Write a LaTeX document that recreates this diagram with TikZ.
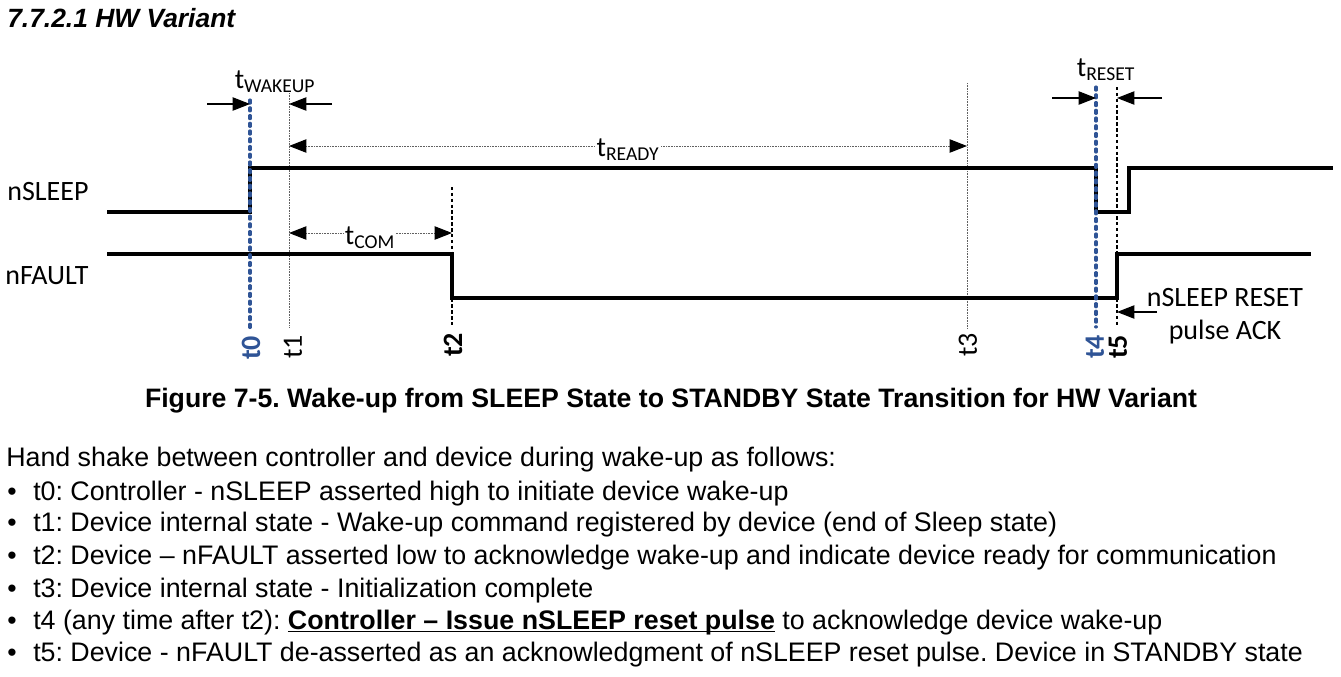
\documentclass[tikz,border=0pt]{standalone}
\usepackage{fontspec}
\setmainfont{Liberation Sans}
\newfontfamily\carl{Carlito}
\usetikzlibrary{arrows.meta}
\definecolor{tblue}{HTML}{2F5496}
\definecolor{tgray}{HTML}{606060}
\frenchspacing
\begin{document}
\begin{tikzpicture}[x=0.75pt,y=-0.75pt,
  sig/.style={line width=2.3pt,line join=miter},
  bluedash/.style={tblue,line width=2.3pt,line cap=round,dash pattern=on 2.4pt off 3.4pt},
  blackdash/.style={black,line width=1.2pt,dash pattern=on 2.6pt off 1.8pt},
  thinline/.style={tgray,line width=0.75pt,dash pattern=on 0.75pt off 0.45pt},
  tip/.style={-{Triangle[length=13pt,width=10pt,color=black]}},
  dtip/.style={{Triangle[length=13pt,width=10pt,color=black]}-{Triangle[length=13pt,width=10pt,color=black]}},
  dlabel/.style={font=\carl\fontsize{21}{24}\selectfont,inner sep=1pt},
  tlabel/.style={font=\carl\fontsize{21}{24}\selectfont,rotate=90,inner sep=0pt},
  body/.style={font=\fontsize{20.1}{23}\selectfont,anchor=base west,inner sep=0pt},
  bul/.style={font=\fontsize{20}{23}\selectfont,anchor=base,inner sep=0pt}]
\useasboundingbox (0,0) rectangle (1341,676);
% title
\node[anchor=base west,inner sep=0pt,font=\fontsize{19.8}{22}\selectfont\bfseries\itshape] (title) at (7,27) {7.7.2.1 HW Variant};
% signal names
\node[dlabel] (nsleep) at (48,192) {nSLEEP};
\node[dlabel] (nfault) at (47,276) {nFAULT};
% time line coordinates
\coordinate (t0a) at (250,100); \coordinate (t0b) at (250,330);
\coordinate (t1a) at (289,93);  \coordinate (t1b) at (289,328);
\coordinate (t2a) at (452,187); \coordinate (t2b) at (452,327);
\coordinate (t3a) at (967,83);  \coordinate (t3b) at (967,328);
\coordinate (t4a) at (1096,87); \coordinate (t4b) at (1096,327);
\coordinate (t5a) at (1117,87); \coordinate (t5b) at (1117,327);
% vertical lines
\draw[thinline] (t1a) -- (t1b);
\draw[thinline] (t3a) -- (t3b);
\draw[blackdash] (t2a) -- (t2b);
\draw[blackdash] (t5a) -- (t5b);
% signals
\coordinate (s0) at (107,212); \coordinate (s1) at (1333,168);
\draw[sig] (s0) -- (250,212) -- (250,168) -- (1096,168) -- (1096,212) -- (1129,212) -- (1129,168) -- (s1);
\coordinate (f0) at (107,254); \coordinate (f1) at (1311,254);
\draw[sig] (f0) -- (452,254) -- (452,298) -- (1117,298) -- (1117,254) -- (f1);
% blue dashed lines on top
\draw[bluedash] (t0a) -- (t0b);
\draw[bluedash] (t4a) -- (t4b);
% tWAKEUP
\coordinate (wa) at (207,104); \coordinate (wt0) at (250,104);
\coordinate (wb) at (332,104); \coordinate (wt1) at (289,104);
\draw[tip,line width=0.8pt] (wa) -- (wt0);
\draw[tip,line width=0.8pt] (wb) -- (wt1);
\node[dlabel] (twake) at (275,82) {t\textsubscript{WAKEUP}};
% tREADY
\coordinate (ra) at (289,146); \coordinate (rb) at (967,146);
\draw[dtip,thinline] (ra) -- (rb);
\node[dlabel,fill=white] (tready) at (628,150) {t\textsubscript{READY}};
% tCOM
\coordinate (ca) at (289,233); \coordinate (cb) at (452,233);
\draw[dtip,thinline] (ca) -- (cb);
\node[dlabel,fill=white] (tcom) at (370,238) {t\textsubscript{COM}};
% tRESET
\coordinate (xa) at (1052,98); \coordinate (xt4) at (1096,98);
\coordinate (xb) at (1162,98); \coordinate (xt5) at (1117,98);
\draw[tip,line width=0.8pt] (xa) -- (xt4);
\draw[tip,line width=0.8pt] (xb) -- (xt5);
\node[dlabel] (treset) at (1106,70) {t\textsubscript{RESET}};
% ACK
\coordinate (ka) at (1157,312); \coordinate (kt) at (1117,312);
\draw[tip,line width=0.8pt] (ka) -- (kt);
\node[dlabel] (ack1) at (1225,298) {nSLEEP RESET};
\node[dlabel] (ack2) at (1225,332) {pulse ACK};
% time labels
\node[tlabel,text=tblue,font=\carl\bfseries\fontsize{21}{24}\selectfont] (l0) at (251,348) {t0};
\node[tlabel] (l1) at (293,347) {t1};
\node[tlabel,font=\carl\bfseries\fontsize{21}{24}\selectfont] (l2) at (453,345) {t2};
\node[tlabel] (l3) at (968,345) {t3};
\node[tlabel,text=tblue,font=\carl\bfseries\fontsize{21}{24}\selectfont] (l4) at (1095,347) {t4};
\node[tlabel,font=\carl\bfseries\fontsize{21}{24}\selectfont] (l5) at (1118,347) {t5};
% caption
\node[anchor=base,inner sep=0pt,font=\fontsize{20}{23}\selectfont\bfseries] (cap) at (671,407) {Figure 7-5. Wake-up from SLEEP State to STANDBY State Transition for HW Variant};
% body
\node[body] (intro) at (6,466) {Hand shake between controller and device during wake-up as follows:};
\node[bul] (b0) at (12,500) {\textbullet}; \node[body] (p0) at (33,500) {t0: Controller - nSLEEP asserted high to initiate device wake-up};
\node[bul] (b1) at (12,531) {\textbullet}; \node[body] (p1) at (33,531) {t1: Device internal state - Wake-up command registered by device (end of Sleep state)};
\node[bul] (b2) at (12,564) {\textbullet}; \node[body] (p2) at (33,564) {t2: Device – nFAULT asserted low to acknowledge wake-up and indicate device ready for communication};
\node[bul] (b3) at (12,597) {\textbullet}; \node[body] (p3) at (33,597) {t3: Device internal state - Initialization complete};
\node[bul] (b4) at (12,629) {\textbullet}; \node[body] (p4) at (33,629) {t4 (any time after t2): \underline{\smash{\textbf{Controller – Issue nSLEEP reset pulse}}} to acknowledge device wake-up};
\node[bul] (b5) at (12,661) {\textbullet}; \node[body] (p5) at (33,661) {t5: Device - nFAULT de-asserted as an acknowledgment of nSLEEP reset pulse. Device in STANDBY state};
\end{tikzpicture}
\end{document}
